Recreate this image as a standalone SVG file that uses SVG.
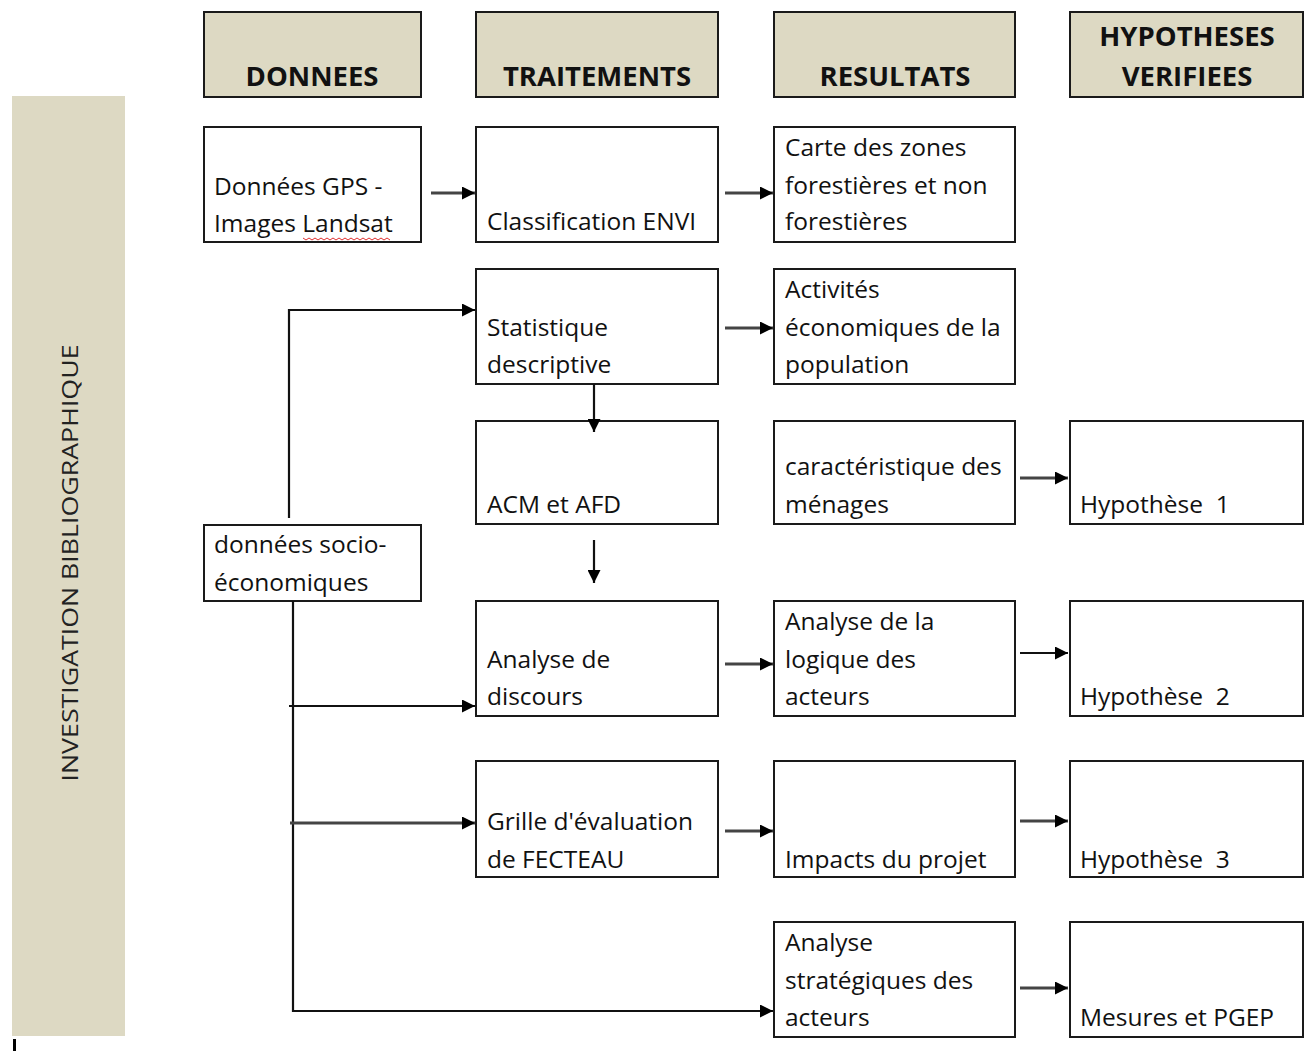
<svg xmlns="http://www.w3.org/2000/svg" width="1312" height="1051" viewBox="0 0 1312 1051">
<style>
.hdr{fill:#DDD9C3;stroke:#1a1a1a;stroke-width:2}
.box{fill:#fff;stroke:#1a1a1a;stroke-width:2}
.ht{font-family:"Open Sans","Liberation Sans",sans-serif;font-weight:bold;font-size:27.5px;fill:#111;text-anchor:middle}
.t{font-family:"Open Sans","Liberation Sans",sans-serif;font-size:24.5px;fill:#111}
.c{fill:none;stroke:#111;stroke-width:2.2}
.g{fill:none;stroke:#444;stroke-width:2.8}
</style>
<defs>
<marker id="ah" viewBox="0 0 13 13" refX="13" refY="6.5" markerWidth="13" markerHeight="13" markerUnits="userSpaceOnUse" orient="auto">
<path d="M0,0 L13,6.5 L0,13 z" fill="#000"/>
</marker>
</defs>

<g id="side">
<rect x="12" y="96" width="113" height="940" fill="#DDD9C3"/>
<text transform="translate(78,563) rotate(-90)" font-family="'Open Sans','Liberation Sans',sans-serif" font-size="22" fill="#222" text-anchor="middle" textLength="437" lengthAdjust="spacingAndGlyphs">INVESTIGATION BIBLIOGRAPHIQUE</text>
<rect x="13" y="1039" width="3" height="12" fill="#000"/>
</g>

<g id="h-donnees"><rect class="hdr" x="204" y="12" width="217" height="85"/><text class="ht" x="312" y="86">DONNEES</text></g>
<g id="h-traitements"><rect class="hdr" x="476" y="12" width="242" height="85"/><text class="ht" x="597" y="86">TRAITEMENTS</text></g>
<g id="h-resultats"><rect class="hdr" x="774" y="12" width="241" height="85"/><text class="ht" x="895" y="86">RESULTATS</text></g>
<g id="h-hypotheses"><rect class="hdr" x="1070" y="12" width="233" height="85"/><text class="ht" x="1187" y="46">HYPOTHESES</text><text class="ht" x="1187" y="86">VERIFIEES</text></g>

<g id="n-gps"><rect class="box" x="204" y="127" width="217" height="115"/>
<text class="t" x="214" y="195">Données GPS -</text><text class="t" x="214" y="232">Images Landsat</text>
<path d="M303,238 l3,2 l3,-2 l3,2 l3,-2 l3,2 l3,-2 l3,2 l3,-2 l3,2 l3,-2 l3,2 l3,-2 l3,2 l3,-2 l3,2 l3,-2 l3,2 l3,-2 l3,2 l3,-2 l3,2 l3,-2 l3,2 l3,-2 l3,2 l3,-2 l3,2 l3,-2 l3,2" fill="none" stroke="#e03030" stroke-width="1"/>
</g>
<g id="n-envi"><rect class="box" x="476" y="127" width="242" height="115"/><text class="t" x="487" y="230">Classification ENVI</text></g>
<g id="n-carte"><rect class="box" x="774" y="127" width="241" height="115"/>
<text class="t" x="785" y="156">Carte des zones</text><text class="t" x="785" y="194">forestières et non</text><text class="t" x="785" y="230">forestières</text></g>

<g id="n-stat"><rect class="box" x="476" y="269" width="242" height="115"/>
<text class="t" x="487" y="336">Statistique</text><text class="t" x="487" y="373">descriptive</text></g>
<g id="n-activites"><rect class="box" x="774" y="269" width="241" height="115"/>
<text class="t" x="785" y="298">Activités</text><text class="t" x="785" y="336">économiques de la</text><text class="t" x="785" y="373">population</text></g>

<g id="n-acm"><rect class="box" x="476" y="421" width="242" height="103"/><text class="t" x="487" y="513">ACM et AFD</text></g>
<g id="n-menages"><rect class="box" x="774" y="421" width="241" height="103"/>
<text class="t" x="785" y="475">caractéristique des</text><text class="t" x="785" y="513">ménages</text></g>
<g id="n-h1"><rect class="box" x="1070" y="421" width="233" height="103"/><text class="t" x="1080" y="513">Hypothèse&#160; 1</text></g>

<g id="n-socio"><rect class="box" x="204" y="525" width="217" height="76"/>
<text class="t" x="214" y="553">données socio-</text><text class="t" x="214" y="591">économiques</text></g>

<g id="n-discours"><rect class="box" x="476" y="601" width="242" height="115"/>
<text class="t" x="487" y="668">Analyse de</text><text class="t" x="487" y="705">discours</text></g>
<g id="n-logique"><rect class="box" x="774" y="601" width="241" height="115"/>
<text class="t" x="785" y="630">Analyse de la</text><text class="t" x="785" y="668">logique des</text><text class="t" x="785" y="705">acteurs</text></g>
<g id="n-h2"><rect class="box" x="1070" y="601" width="233" height="115"/><text class="t" x="1080" y="705">Hypothèse&#160; 2</text></g>

<g id="n-grille"><rect class="box" x="476" y="761" width="242" height="116"/>
<text class="t" x="487" y="830">Grille d'évaluation</text><text class="t" x="487" y="868">de FECTEAU</text></g>
<g id="n-impacts"><rect class="box" x="774" y="761" width="241" height="116"/><text class="t" x="785" y="868">Impacts du projet</text></g>
<g id="n-h3"><rect class="box" x="1070" y="761" width="233" height="116"/><text class="t" x="1080" y="868">Hypothèse&#160; 3</text></g>

<g id="n-strat"><rect class="box" x="774" y="922" width="241" height="115"/>
<text class="t" x="785" y="951">Analyse</text><text class="t" x="785" y="989">stratégiques des</text><text class="t" x="785" y="1026">acteurs</text></g>
<g id="n-mesures"><rect class="box" x="1070" y="922" width="233" height="115"/><text class="t" x="1080" y="1026">Mesures et PGEP</text></g>

<g id="connectors">
<path class="g" d="M431,193 H475" marker-end="url(#ah)"/>
<path class="g" d="M725,193 H773" marker-end="url(#ah)"/>
<path class="g" d="M725,328 H773" marker-end="url(#ah)"/>
<path class="c" d="M289,518 V310 H475" marker-end="url(#ah)"/>
<path class="c" d="M594,384 V432" marker-end="url(#ah)"/>
<path class="c" d="M594,540 V583" marker-end="url(#ah)"/>
<path class="g" d="M1020,478 H1068" marker-end="url(#ah)"/>
<path class="c" d="M293,601 V1011 H773" marker-end="url(#ah)"/>
<path class="c" d="M289,706 H475" marker-end="url(#ah)"/>
<path class="g" d="M290,823 H475" marker-end="url(#ah)"/>
<path class="g" d="M725,664 H773" marker-end="url(#ah)"/>
<path class="c" d="M1020,653 H1068" marker-end="url(#ah)"/>
<path class="g" d="M725,831 H773" marker-end="url(#ah)"/>
<path class="g" d="M1020,821 H1068" marker-end="url(#ah)"/>
<path class="g" d="M1020,988 H1068" marker-end="url(#ah)"/>
</g>
</svg>
